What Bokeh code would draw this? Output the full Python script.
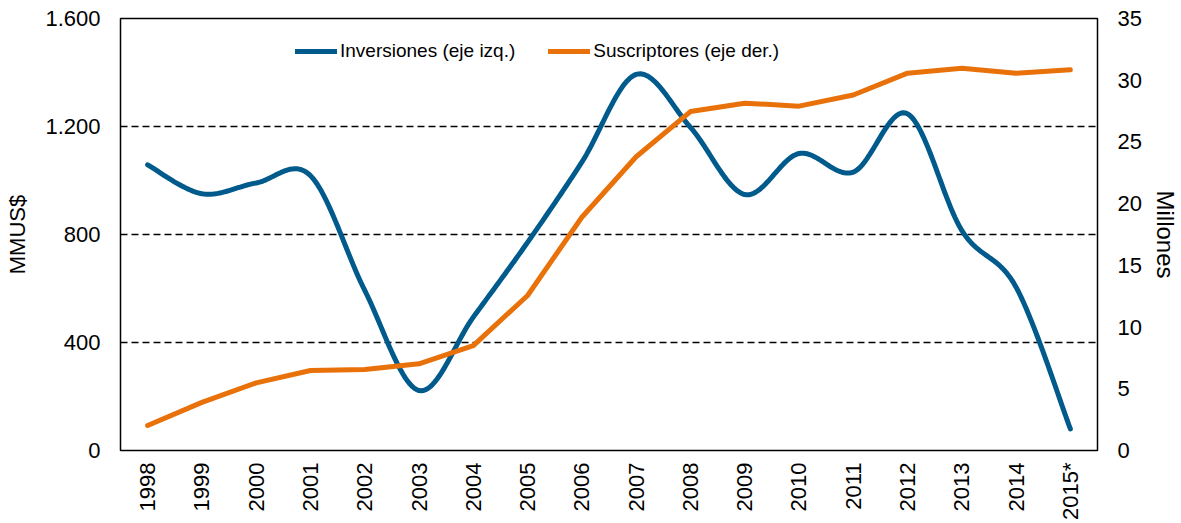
import numpy as np
from math import pi
from bokeh.plotting import figure
from bokeh.models import Range1d, LinearAxis, FixedTicker, Legend, LegendItem
from bokeh.embed import file_html
from bokeh.resources import INLINE

years = ["1998", "1999", "2000", "2001", "2002", "2003", "2004", "2005", "2006",
         "2007", "2008", "2009", "2010", "2011", "2012", "2013", "2014", "2015*"]
inversiones = [1058, 951, 991, 1018, 593, 222, 494, 771, 1068,
               1393, 1197, 948, 1100, 1031, 1247, 815, 605, 80]
suscriptores = [2.03, 3.9, 5.48, 6.48, 6.56, 7.02, 8.5, 12.56, 18.9,
                23.8, 27.46, 28.14, 27.9, 28.8, 30.57, 30.97, 30.57, 30.84]
left_ticks = [0, 400, 800, 1200, 1600]
left_labels = ["0", "400", "800", "1.200", "1.600"]
right_ticks = [0, 5, 10, 15, 20, 25, 30, 35]
grid_ticks = [400, 800, 1200]

BLUE = "#005A8C"
ORANGE = "#E8710A"
FONT = "Liberation Sans"


def smooth(xs, ys, n=24):
    pts = np.column_stack([xs, ys]).astype(float)
    P = np.vstack([pts[0], pts, pts[-1]])
    ox, oy = [], []
    segs = len(pts) - 1
    for i in range(1, len(P) - 2):
        p0, p1, p2, p3 = P[i - 1], P[i], P[i + 1], P[i + 2]
        c1 = p1 + (p2 - p0) / 6.0
        c2 = p2 - (p3 - p1) / 6.0
        t = np.linspace(0, 1, n, endpoint=(i == segs))
        b = ((1 - t) ** 3)[:, None] * p1 + (3 * (1 - t) ** 2 * t)[:, None] * c1 \
            + (3 * (1 - t) * t ** 2)[:, None] * c2 + (t ** 3)[:, None] * p2
        ox.extend(b[:, 0])
        oy.extend(b[:, 1])
    return ox, oy


xidx = list(range(len(years)))

p = figure(width=1181, height=523, output_backend="svg", toolbar_location=None,
           x_range=Range1d(-0.5, len(years) - 0.5), y_range=Range1d(0, 1600),
           min_border_left=120, min_border_right=84, min_border_top=18,
           min_border_bottom=73)
p.extra_y_ranges = {"right": Range1d(0, 35)}

p.outline_line_color = "black"
p.outline_line_width = 1.5
p.xgrid.grid_line_color = None
p.ygrid.ticker = FixedTicker(ticks=grid_ticks)
p.ygrid.grid_line_color = "black"
p.ygrid.grid_line_dash = "7 4"
p.ygrid.grid_line_width = 1.5

bx, by = smooth(xidx, inversiones)
r1 = p.line(bx, by, line_color=BLUE, line_width=5, line_cap="round", line_join="round")
r2 = p.line(xidx, suscriptores, line_color=ORANGE, line_width=5, line_cap="round",
            line_join="round", y_range_name="right")

# left axis
ax = p.yaxis[0]
ax.ticker = FixedTicker(ticks=left_ticks)
ax.major_label_overrides = {t: l for t, l in zip(left_ticks, left_labels)}
ax.axis_label = "MMUS$"

# right axis
ra = LinearAxis(y_range_name="right", ticker=FixedTicker(ticks=right_ticks),
                axis_label="Millones")
p.add_layout(ra, "right")

# bottom axis
bxax = p.xaxis[0]
bxax.ticker = FixedTicker(ticks=xidx)
bxax.major_label_overrides = {i: y for i, y in enumerate(years)}
bxax.major_label_orientation = pi / 2

for a in [ax, ra, bxax]:
    a.axis_line_color = None
    a.major_tick_line_color = None
    a.minor_tick_line_color = None
    a.major_tick_out = 0
    a.major_tick_in = 0
    a.minor_tick_out = 0
    a.minor_tick_in = 0
    a.major_label_text_font = FONT
    a.major_label_text_font_size = "22px"
    a.major_label_text_color = "black"
    a.axis_label_text_font = FONT
    a.axis_label_text_font_size = "22px"
    a.axis_label_text_font_style = "normal"
    a.axis_label_text_color = "black"
    a.major_label_standoff = 20
    a.axis_label_standoff = 12
bxax.major_label_standoff = 12
ra.axis_label_standoff = 7
ra.axis_label_text_font_size = "24px"

legend = Legend(items=[LegendItem(label="Inversiones (eje izq.)", renderers=[r1]),
                       LegendItem(label="Suscriptores (eje der.)", renderers=[r2])],
                orientation="horizontal", location=(175, 388),
                border_line_color=None, background_fill_alpha=0,
                label_text_font=FONT, label_text_font_size="19px",
                label_text_color="black",
                glyph_width=42, glyph_height=20, label_height=20,
                label_standoff=3, spacing=33, padding=0, margin=0)
p.add_layout(legend)

open("out.html", "w").write(file_html(p, INLINE))
